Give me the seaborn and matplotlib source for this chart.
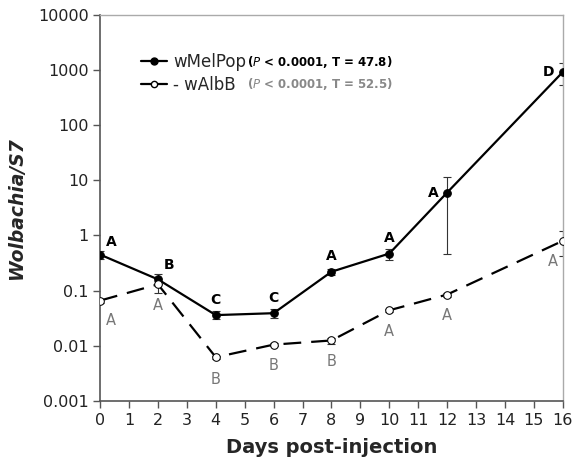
import matplotlib
matplotlib.use('Agg')
import matplotlib.pyplot as plt
from matplotlib.lines import Line2D
import numpy as np
import pandas as pd
import seaborn as sns

days = [0, 2, 4, 6, 8, 10, 12, 16]

melpop = [0.45, 0.16, 0.036, 0.039, 0.22, 0.47, 6.0, 920]
melpop_lo = [0.38, 0.13, 0.030, 0.032, 0.19, 0.36, 0.47, 530]
melpop_hi = [0.52, 0.20, 0.043, 0.046, 0.25, 0.56, 11.3, 1330]
melpop_letters = ['A', 'B', 'C', 'C', 'A', 'A', 'A', 'D']

albb = [0.066, 0.13, 0.0062, 0.0105, 0.0125, 0.044, 0.085, 0.80]
albb_lo = [0.060, 0.09, 0.0058, 0.0098, 0.011, 0.041, 0.078, 0.42]
albb_hi = [0.072, 0.15, 0.0066, 0.0112, 0.014, 0.047, 0.092, 1.2]
albb_letters = ['A', 'A', 'B', 'B', 'B', 'A', 'A', 'A']

sns.set_style('ticks')
plt.rcParams['font.family'] = ['DejaVu Sans']

fig = plt.figure(figsize=(5.72, 4.63), dpi=100)
ax = fig.add_axes([0.175, 0.134, 0.809, 0.834])

df = pd.DataFrame({'day': days + days,
                   'value': melpop + albb,
                   'strain': ['wMelPop'] * len(days) + ['wAlbB'] * len(days)})

sns.lineplot(data=df[df.strain == 'wMelPop'], x='day', y='value', ax=ax,
             color='black', lw=1.6, marker='o', markersize=5.5,
             markerfacecolor='black', markeredgecolor='black', zorder=3)
sns.lineplot(data=df[df.strain == 'wAlbB'], x='day', y='value', ax=ax,
             color='black', lw=1.6, marker='o', markersize=5.5,
             markerfacecolor='white', markeredgecolor='black', zorder=3)
ax.lines[1].set_dashes((8, 4.5))

# error bars
m = np.array(melpop); a = np.array(albb)
ax.errorbar(days, m, yerr=[m - np.array(melpop_lo), np.array(melpop_hi) - m],
            fmt='none', ecolor='#333333', elinewidth=0.8, capsize=3, capthick=0.8, zorder=2)
ax.errorbar(days, a, yerr=[a - np.array(albb_lo), np.array(albb_hi) - a],
            fmt='none', ecolor='#333333', elinewidth=0.8, capsize=3, capthick=0.8, zorder=2)

ax.set_yscale('log')
ax.set_ylim(0.001, 10000)
ax.set_xlim(0, 16)
ax.set_xticks(range(0, 17))
ax.set_yticks([0.001, 0.01, 0.1, 1, 10, 100, 1000, 10000])
ax.set_yticklabels(['0.001', '0.01', '0.1', '1', '10', '100', '1000', '10000'])
ax.minorticks_off()
ax.tick_params(axis='both', direction='out', length=5, width=1, colors='#555555',
               labelcolor='#222222', labelsize=11.5, bottom=True, left=True)
ax.tick_params(axis='x', pad=4)
ax.tick_params(axis='y', pad=3)

for s in ['left', 'bottom']:
    ax.spines[s].set_visible(True)
    ax.spines[s].set_color('#555555')
    ax.spines[s].set_linewidth(1.2)
for s in ['top', 'right']:
    ax.spines[s].set_visible(True)
    ax.spines[s].set_color('#aaaaaa')
    ax.spines[s].set_linewidth(1.0)

ax.set_xlabel('Days post-injection', fontsize=14, fontweight='bold', labelpad=7)
ax.set_ylabel('Wolbachia/S7', fontsize=13.5, fontweight='bold', style='italic', labelpad=9)

# significance letters
mel_off = [(8, 4), (8, 5), (0, 6), (0, 6), (0, 6), (0, 6), (-10, 0), (-10, 0)]
alb_off = [(8, -14), (0, -15), (0, -16), (0, -15), (0, -15), (0, -15), (0, -15), (-7, -15)]
for d, v, t, o in zip(days, melpop, melpop_letters, mel_off):
    ax.annotate(t, (d, v), xytext=o, textcoords='offset points', ha='center',
                va='bottom' if o[1] > 0 else 'center', fontsize=10, fontweight='bold',
                color='black')
for d, v, t, o in zip(days, albb, albb_letters, alb_off):
    ax.annotate(t, (d, v), xytext=o, textcoords='offset points', ha='center',
                va='center', fontsize=10.5, color='#777777')

# legend
h1 = Line2D([], [], color='black', lw=1.6, marker='o', markersize=5,
            markerfacecolor='black')
h2 = Line2D([], [], color='black', lw=1.6, marker='o', markersize=4.5,
            markerfacecolor='white')
leg = ax.legend([h1, h2], ['wMelPop', '- wAlbB'], loc='upper left',
                bbox_to_anchor=(0.055, 0.94), frameon=False, fontsize=12,
                handlelength=1.6, handletextpad=0.35, labelspacing=0.3)
ax.text(0.318, 0.877, r'($\it{P}$ < 0.0001, T = 47.8)', transform=ax.transAxes,
        fontsize=8.5, fontweight='bold', color='black', va='center')
ax.text(0.318, 0.820, r'($\it{P}$ < 0.0001, T = 52.5)', transform=ax.transAxes,
        fontsize=8.5, fontweight='bold', color='#888888', va='center')

plt.savefig('out.png', dpi=100)
